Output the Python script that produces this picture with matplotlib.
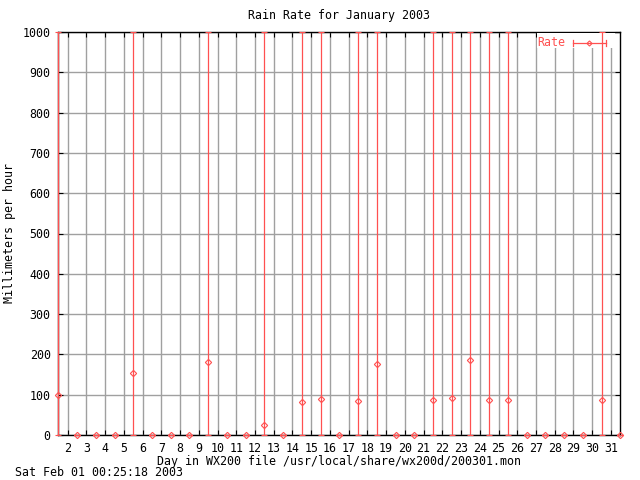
import matplotlib
matplotlib.use("Agg")
import matplotlib.pyplot as plt
from matplotlib.lines import Line2D
from matplotlib.patches import Rectangle
import numpy as np

# Data: day (mid-day positions), rain rate, error bar low/high
days = [d + 0.5 for d in range(1, 32)]
rate = [99, 0, 0, 0, 153, 0, 0, 0, 182, 0, 0, 24, 0, 81, 89, 0, 84, 175, 0, 0,
        86, 91, 185, 86, 86, 0, 0, 0, 0, 86, 0]
rate_low = [0] * 31
rate_high = [1000 if r > 0 else 0 for r in rate]
xtick_vals = list(range(2, 32))
ytick_vals = list(range(0, 1001, 100))

RED = "#ff5050"
GRAY = "#a0a0a0"
FONT = "DejaVu Sans Mono"
FS = 8.4

plt.rcParams['font.family'] = [FONT]

fig = plt.figure(figsize=(6.4, 4.8), dpi=100)
W, H = 640, 480
ax = fig.add_axes([58.3 / W, 1 - 435 / H, (620.3 - 58.3) / W, (435 - 32) / H])

ax.set_xlim(1.5, 31.5)
ax.set_ylim(0, 1000)
ax.set_xticks(xtick_vals)
ax.set_xticklabels([str(v) for v in xtick_vals])
ax.set_yticks(ytick_vals)
ax.set_yticklabels([str(v) for v in ytick_vals])
ax.tick_params(direction='in', length=3.6, width=0.8, top=True, right=True,
               labelsize=FS, colors='black')
ax.tick_params(axis='x', pad=5)
ax.tick_params(axis='y', pad=5.5)
for lab in ax.get_xticklabels() + ax.get_yticklabels():
    lab.set_family(FONT)
ax.grid(True, color=GRAY, linewidth=1.0)
ax.set_axisbelow(True)
for sp in ax.spines.values():
    sp.set_linewidth(1.0)
    sp.set_color('black')
    sp.set_zorder(2.5)

r = np.array(rate, dtype=float)
lo = np.array(rate_low, dtype=float)
hi = np.array(rate_high, dtype=float)
eb = ax.errorbar(days, r, yerr=[r - lo, hi - r], fmt='D', mfc='none', mec=RED,
                 ms=3.2, mew=0.8, ecolor=RED, elinewidth=0.9, capsize=2.5,
                 capthick=0.9, zorder=4, clip_on=False)
for art in eb.lines[1] + eb.lines[2] + (eb.lines[0],):
    if art is not None:
        art.set_clip_on(False)

# Key (drawn below data, like the original)
bg = Rectangle((537 / W, 1 - 48 / H), (615 - 537) / W, 15 / H, transform=fig.transFigure,
               facecolor='white', edgecolor='none', zorder=3)
ax.add_artist(bg)
bg.set_clip_on(False)
ky = 1 - 43 / H
fig.text(565 / W, ky, "Rate", color=RED, fontsize=FS, family=FONT, ha='right', va='center')
ax.add_line(Line2D([573 / W, 606 / W], [ky, ky], transform=fig.transFigure, color=RED,
                   lw=0.9, zorder=3.1, clip_on=False))
for xc in (573 / W, 606 / W):
    ax.add_line(Line2D([xc, xc], [ky - 3 / H, ky + 3 / H], transform=fig.transFigure,
                       color=RED, lw=0.9, zorder=3.1, clip_on=False))
ax.add_line(Line2D([589 / W], [ky], transform=fig.transFigure, marker='D', mfc='none',
                   mec=RED, ms=2.6, mew=0.8, zorder=3.2, clip_on=False))

fig.text(0.5 * (58.3 + 620.3) / W, 1 - 16 / H, "Rain Rate for January 2003",
         fontsize=FS, family=FONT, ha='center', va='center')
fig.text(10 / W, 1 - 233 / H, "Millimeters per hour", rotation=90,
         fontsize=FS, family=FONT, ha='center', va='center')
fig.text(0.5 * (58.3 + 620.3) / W, 1 - 462 / H,
         "Day in WX200 file /usr/local/share/wx200d/200301.mon",
         fontsize=FS, family=FONT, ha='center', va='center')
fig.text(15 / W, 1 - 473 / H, "Sat Feb 01 00:25:18 2003",
         fontsize=FS, family=FONT, ha='left', va='center')

fig.savefig("out.png", dpi=100)
